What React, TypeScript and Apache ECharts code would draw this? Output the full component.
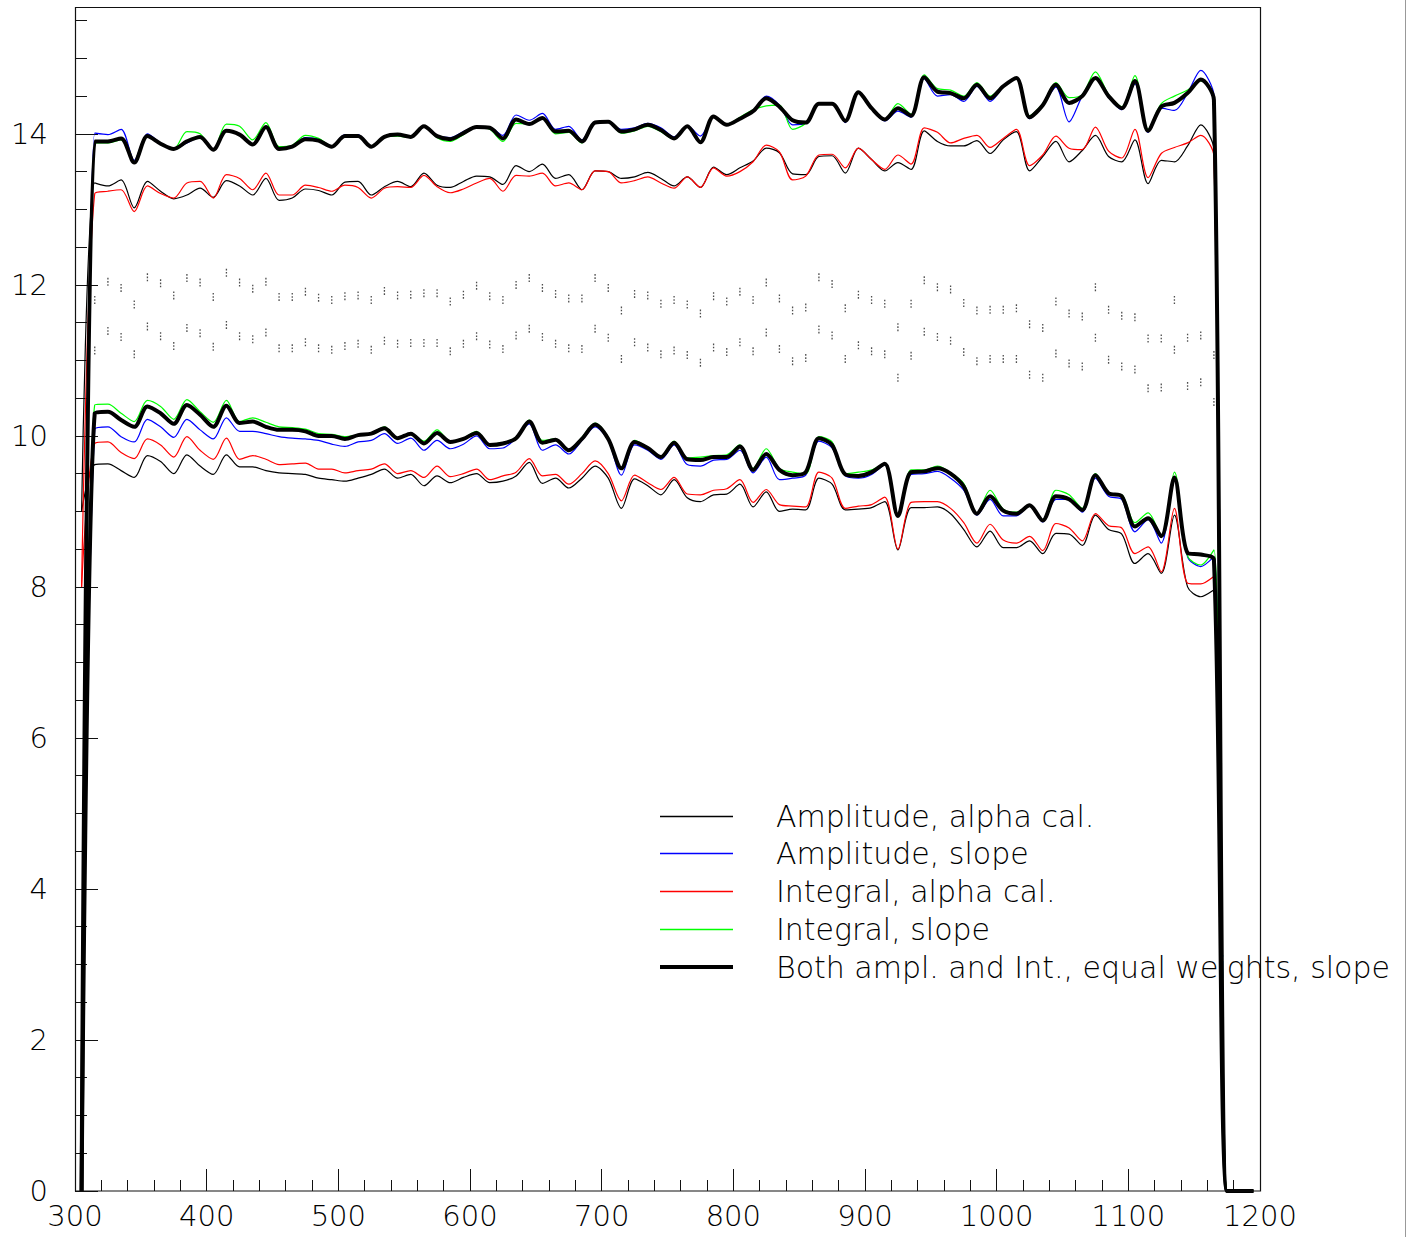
import React, { useEffect, useRef } from "react";
import * as echarts from "echarts";

const X = [
  305, 315, 325, 335, 345, 355, 365, 375, 385, 395,
  405, 415, 425, 435, 445, 455, 465, 475, 485, 495,
  505, 515, 525, 535, 545, 555, 565, 575, 585, 595,
  605, 615, 625, 635, 645, 655, 665, 675, 685, 695,
  705, 715, 725, 735, 745, 755, 765, 775, 785, 795,
  805, 815, 825, 835, 845, 855, 865, 875, 885, 895,
  905, 915, 925, 935, 945, 955, 965, 975, 985, 995,
  1005, 1015, 1025, 1035, 1045, 1055, 1065, 1075, 1085, 1095,
  1105, 1115, 1125, 1135, 1145, 1155, 1165, 1175, 1185, 1195,
];

// upper band
const ampAlphaHi = [
  9.0, 13.35, 13.31, 13.39, 13.02, 13.37, 13.24, 13.14, 13.19, 13.28,
  13.16, 13.38, 13.31, 13.19, 13.41, 13.12, 13.15, 13.27, 13.25, 13.19,
  13.36, 13.37, 13.19, 13.30, 13.37, 13.30, 13.48, 13.32, 13.29, 13.37,
  13.44, 13.43, 13.33, 13.58, 13.50, 13.60, 13.41, 13.46, 13.26, 13.51,
  13.50, 13.41, 13.43, 13.49, 13.41, 13.31, 13.43, 13.29, 13.56, 13.46,
  13.55, 13.64, 13.81, 13.75, 13.47, 13.46, 13.70, 13.71, 13.48, 13.81,
  13.66, 13.51, 13.62, 13.53, 14.04, 13.90, 13.84, 13.84, 13.91, 13.74,
  13.92, 14.03, 13.51, 13.70, 13.90, 13.63, 13.78, 13.98, 13.70, 13.63,
  13.92, 13.34, 13.65, 13.63, 13.84, 14.12, 13.79, 0, 0, 0,
];
const ampSlopeHi = [
  0, 14.01, 13.99, 14.06, 13.65, 14.00, 13.88, 13.80, 13.88, 13.96,
  13.78, 14.04, 13.99, 13.86, 14.10, 13.81, 13.84, 13.95, 13.93, 13.84,
  13.99, 13.99, 13.83, 13.96, 14.00, 13.97, 14.11, 13.98, 13.95, 14.03,
  14.10, 14.09, 13.98, 14.25, 14.18, 14.27, 14.06, 14.10, 13.92, 14.16,
  14.15, 14.06, 14.08, 14.14, 14.08, 13.96, 14.11, 13.97, 14.22, 14.12,
  14.20, 14.30, 14.50, 14.38, 14.12, 14.14, 14.40, 14.41, 14.15, 14.55,
  14.33, 14.17, 14.30, 14.22, 14.73, 14.50, 14.52, 14.43, 14.63, 14.43,
  14.62, 14.74, 14.20, 14.38, 14.62, 14.16, 14.50, 14.74, 14.48, 14.32,
  14.66, 14.02, 14.34, 14.31, 14.54, 14.84, 14.50, 0, 0, 0,
];
const intAlphaHi = [
  8.0, 13.21, 13.24, 13.26, 12.97, 13.31, 13.21, 13.15, 13.35, 13.37,
  13.15, 13.46, 13.41, 13.26, 13.48, 13.19, 13.19, 13.32, 13.29, 13.24,
  13.32, 13.29, 13.15, 13.28, 13.30, 13.29, 13.45, 13.30, 13.22, 13.27,
  13.35, 13.41, 13.24, 13.45, 13.44, 13.48, 13.31, 13.35, 13.26, 13.51,
  13.50, 13.35, 13.38, 13.43, 13.35, 13.28, 13.43, 13.29, 13.55, 13.44,
  13.50, 13.63, 13.85, 13.76, 13.39, 13.44, 13.72, 13.73, 13.55, 13.81,
  13.66, 13.53, 13.72, 13.60, 14.08, 14.02, 13.88, 13.94, 13.98, 13.82,
  13.94, 14.06, 13.58, 13.72, 13.97, 13.81, 13.79, 14.09, 13.77, 13.68,
  14.06, 13.42, 13.74, 13.82, 13.88, 13.98, 13.70, 0, 0, 0,
];
const intSlopeHi = [
  0, 13.88, 13.88, 13.92, 13.62, 13.97, 13.86, 13.80, 14.03, 14.00,
  13.79, 14.13, 14.10, 13.92, 14.15, 13.83, 13.85, 13.98, 13.94, 13.84,
  13.98, 13.97, 13.84, 13.96, 13.97, 13.95, 14.10, 13.95, 13.90, 13.99,
  14.09, 14.06, 13.90, 14.14, 14.13, 14.20, 14.00, 14.02, 13.88, 14.15,
  14.16, 14.01, 14.04, 14.10, 14.03, 13.93, 14.10, 13.90, 14.23, 14.13,
  14.22, 14.32, 14.37, 14.38, 14.06, 14.14, 14.40, 14.40, 14.17, 14.56,
  14.35, 14.19, 14.40, 14.26, 14.78, 14.60, 14.58, 14.50, 14.68, 14.50,
  14.64, 14.74, 14.24, 14.40, 14.68, 14.48, 14.52, 14.82, 14.52, 14.36,
  14.77, 14.06, 14.40, 14.50, 14.58, 14.70, 14.42, 0, 0, 0,
];
const bothHi = [
  0, 13.90, 13.90, 13.94, 13.62, 13.97, 13.87, 13.80, 13.90, 13.96,
  13.79, 14.04, 13.99, 13.86, 14.09, 13.80, 13.83, 13.93, 13.91, 13.83,
  13.97, 13.97, 13.83, 13.96, 13.99, 13.96, 14.10, 13.97, 13.93, 14.01,
  14.09, 14.08, 13.94, 14.19, 14.13, 14.21, 14.03, 14.04, 13.90, 14.15,
  14.16, 14.03, 14.06, 14.12, 14.05, 13.94, 14.10, 13.89, 14.23, 14.12,
  14.20, 14.30, 14.47, 14.36, 14.18, 14.15, 14.40, 14.40, 14.17, 14.55,
  14.34, 14.19, 14.34, 14.24, 14.75, 14.56, 14.54, 14.47, 14.65, 14.47,
  14.63, 14.74, 14.22, 14.38, 14.65, 14.41, 14.50, 14.74, 14.50, 14.34,
  14.70, 14.04, 14.36, 14.41, 14.54, 14.72, 14.45, 0, 0, 0,
];

// lower band
const ampAlphaLo = [
  9.0, 9.62, 9.63, 9.54, 9.45, 9.74, 9.66, 9.50, 9.75, 9.60,
  9.49, 9.75, 9.59, 9.59, 9.54, 9.51, 9.50, 9.49, 9.44, 9.42,
  9.40, 9.44, 9.49, 9.56, 9.44, 9.49, 9.34, 9.47, 9.38, 9.45,
  9.50, 9.38, 9.40, 9.47, 9.65, 9.37, 9.44, 9.31, 9.44, 9.60,
  9.44, 9.04, 9.43, 9.34, 9.22, 9.42, 9.18, 9.13, 9.22, 9.23,
  9.36, 9.06, 9.26, 9.00, 9.03, 9.02, 9.44, 9.36, 9.02, 9.03,
  9.05, 9.13, 8.49, 9.05, 9.05, 9.06, 8.97, 8.76, 8.53, 8.74,
  8.52, 8.52, 8.61, 8.44, 8.71, 8.70, 8.55, 8.95, 8.76, 8.70,
  8.31, 8.44, 8.18, 8.95, 8.00, 7.87, 7.96, 0, 0, 0,
];
const ampSlopeLo = [
  0, 10.09, 10.12, 9.99, 9.92, 10.22, 10.12, 9.98, 10.22, 10.08,
  9.96, 10.24, 10.06, 10.06, 10.03, 9.99, 9.97, 9.96, 9.94, 9.89,
  9.86, 9.92, 9.94, 10.03, 9.90, 9.97, 9.81, 9.94, 9.83, 9.89,
  10.00, 9.83, 9.84, 9.97, 10.16, 9.81, 9.88, 9.76, 9.94, 10.12,
  9.94, 9.48, 9.88, 9.81, 9.69, 9.88, 9.62, 9.60, 9.68, 9.69,
  9.81, 9.51, 9.72, 9.42, 9.44, 9.48, 9.93, 9.84, 9.47, 9.44,
  9.49, 9.62, 8.94, 9.49, 9.50, 9.53, 9.44, 9.28, 8.95, 9.16,
  8.94, 8.94, 9.08, 8.86, 9.16, 9.16, 8.99, 9.44, 9.20, 9.16,
  8.73, 8.89, 8.58, 9.43, 8.40, 8.27, 8.40, 0, 0, 0,
];
const intAlphaLo = [
  8.0, 9.90, 9.92, 9.78, 9.70, 9.96, 9.88, 9.72, 9.99, 9.81,
  9.69, 9.97, 9.69, 9.74, 9.69, 9.62, 9.63, 9.64, 9.56, 9.56,
  9.51, 9.54, 9.56, 9.63, 9.50, 9.54, 9.45, 9.60, 9.46, 9.50,
  9.56, 9.42, 9.47, 9.52, 9.70, 9.47, 9.49, 9.36, 9.50, 9.67,
  9.50, 9.14, 9.48, 9.38, 9.29, 9.45, 9.23, 9.22, 9.28, 9.30,
  9.42, 9.12, 9.29, 9.09, 9.07, 9.06, 9.52, 9.44, 9.04, 9.07,
  9.09, 9.19, 8.50, 9.12, 9.13, 9.13, 9.04, 8.85, 8.58, 8.83,
  8.62, 8.58, 8.67, 8.48, 8.84, 8.78, 8.61, 8.97, 8.81, 8.78,
  8.44, 8.53, 8.20, 9.04, 8.05, 8.04, 8.14, 0, 0, 0,
];
const intSlopeLo = [
  0, 10.41, 10.42, 10.30, 10.19, 10.47, 10.39, 10.22, 10.48, 10.32,
  10.18, 10.47, 10.19, 10.24, 10.18, 10.12, 10.11, 10.09, 10.03, 10.02,
  9.99, 10.01, 10.03, 10.12, 9.97, 10.03, 9.93, 10.08, 9.93, 9.97,
  10.06, 9.89, 9.91, 9.98, 10.21, 9.94, 9.96, 9.82, 9.98, 10.17,
  9.98, 9.58, 9.94, 9.85, 9.73, 9.93, 9.71, 9.72, 9.74, 9.75,
  9.88, 9.57, 9.83, 9.57, 9.52, 9.50, 9.99, 9.92, 9.50, 9.52,
  9.55, 9.64, 8.93, 9.55, 9.55, 9.60, 9.51, 9.37, 8.98, 9.28,
  9.03, 8.99, 9.08, 8.89, 9.28, 9.22, 9.04, 9.50, 9.24, 9.22,
  8.85, 8.98, 8.67, 9.52, 8.41, 8.29, 8.49, 0, 0, 0,
];
const bothLo = [
  0, 10.30, 10.32, 10.21, 10.12, 10.39, 10.30, 10.16, 10.41, 10.28,
  10.12, 10.40, 10.17, 10.19, 10.12, 10.08, 10.08, 10.06, 10.00, 10.00,
  9.96, 10.01, 10.03, 10.10, 9.97, 10.03, 9.90, 10.04, 9.92, 9.96,
  10.04, 9.88, 9.90, 9.97, 10.19, 9.91, 9.95, 9.81, 9.96, 10.15,
  9.96, 9.57, 9.92, 9.84, 9.72, 9.91, 9.69, 9.68, 9.72, 9.72,
  9.86, 9.55, 9.76, 9.55, 9.48, 9.52, 9.97, 9.88, 9.49, 9.47,
  9.52, 9.63, 8.94, 9.52, 9.53, 9.57, 9.50, 9.33, 8.97, 9.20,
  9.01, 8.97, 9.08, 8.88, 9.20, 9.16, 9.02, 9.48, 9.24, 9.20,
  8.80, 8.91, 8.67, 9.45, 8.45, 8.43, 8.36, 0, 0, 0,
];

// dotted markers (x = 315 ... 1165)
const markX = [
  315, 325, 335, 345, 355, 365, 375, 385, 395, 405,
  415, 425, 435, 445, 455, 465, 475, 485, 495, 505,
  515, 525, 535, 545, 555, 565, 575, 585, 595, 605,
  615, 625, 635, 645, 655, 665, 675, 685, 695, 705,
  715, 725, 735, 745, 755, 765, 775, 785, 795, 805,
  815, 825, 835, 845, 855, 865, 875, 885, 895, 905,
  915, 925, 935, 945, 955, 965, 975, 985, 995, 1005,
  1015, 1025, 1035, 1045, 1055, 1065, 1075, 1085, 1095, 1105,
  1115, 1125, 1135, 1145, 1155, 1165,
];
const markHi = [
  11.80, 12.04, 11.96, 11.74, 12.10, 12.02, 11.86, 12.09, 12.03, 11.84,
  12.16, 12.03, 11.95, 12.04, 11.84, 11.84, 11.91, 11.83, 11.80, 11.85,
  11.86, 11.80, 11.92, 11.86, 11.87, 11.89, 11.89, 11.78, 11.87, 11.99,
  11.85, 11.80, 12.00, 12.09, 11.96, 11.88, 11.82, 11.82, 12.09, 11.96,
  11.66, 11.88, 11.86, 11.75, 11.80, 11.74, 11.62, 11.85, 11.78, 11.91,
  11.80, 12.03, 11.82, 11.66, 11.70, 12.10, 12.01, 11.69, 11.87, 11.80,
  11.75, 11.44, 11.75, 12.06, 11.97, 11.94, 11.76, 11.66, 11.67, 11.67,
  11.69, 11.48, 11.43, 11.78, 11.62, 11.58, 11.97, 11.67, 11.59, 11.57,
  11.29, 11.29, 11.80, 11.30, 11.33, 11.07,
];
const markLo = [
  11.13, 11.39, 11.31, 11.08, 11.45, 11.32, 11.19, 11.43, 11.36, 11.18,
  11.47, 11.32, 11.28, 11.37, 11.16, 11.16, 11.24, 11.16, 11.14, 11.19,
  11.22, 11.14, 11.26, 11.22, 11.23, 11.23, 11.23, 11.12, 11.22, 11.32,
  11.21, 11.15, 11.33, 11.42, 11.31, 11.22, 11.16, 11.15, 11.42, 11.30,
  11.02, 11.24, 11.17, 11.08, 11.13, 11.07, 10.97, 11.17, 11.11, 11.24,
  11.12, 11.37, 11.15, 10.99, 11.03, 11.41, 11.33, 11.02, 11.20, 11.12,
  11.08, 10.77, 11.06, 11.38, 11.31, 11.26, 11.11, 10.99, 11.02, 11.02,
  11.02, 10.81, 10.77, 11.09, 10.96, 10.92, 11.30, 11.01, 10.92, 10.88,
  10.63, 10.64, 11.14, 10.66, 10.71, 10.45,
];

const NAMES = [
  "Amplitude, alpha cal.",
  "Amplitude, slope",
  "Integral, alpha cal.",
  "Integral, slope",
  "Both ampl. and Int., equal weights, slope",
];
const COLORS = ["#000000", "#0000ff", "#ff0000", "#00ff00", "#000000"];
const WIDTHS = [1.2, 1.2, 1.2, 1.2, 4];

const FONT = "DejaVu Sans";
const FONT_WEIGHT = 200;

export default function App() {
  const ref = useRef<HTMLDivElement>(null);
  useEffect(() => {
    const chart = echarts.init(ref.current!, null, { renderer: "svg" });
    const pairs = (ys: number[]) => X.map((x, i) => [x, ys[i]]);
    const lineSeries = (k: number, ys: number[]) => ({
      type: "line",
      name: NAMES[k],
      data: pairs(ys),
      symbol: "none",
      smooth: 0.3,
      lineStyle: { color: COLORS[k], width: WIDTHS[k] },
      itemStyle: { color: COLORS[k] },
      z: 2 + k,
      silent: true,
    });
    const hi = [ampAlphaHi, ampSlopeHi, intAlphaHi, intSlopeHi, bothHi];
    const lo = [ampAlphaLo, ampSlopeLo, intAlphaLo, intSlopeLo, bothLo];
    const series: any[] = [];
    for (let k = 0; k < 5; k++) {
      series.push(lineSeries(k, lo[k]));
      series.push(lineSeries(k, hi[k]));
    }
    const dotSym = "path://M0 0H1V2H0Z M0 4H1V6H0Z M0 8H1V10H0Z";
    [markHi, markLo].forEach((ys, j) => {
      series.push({
        type: "scatter",
        name: j === 0 ? "markHi" : "markLo",
        data: markX.map((x, i) => [x, ys[i]]),
        symbol: dotSym,
        symbolSize: [1.3, 8],
        itemStyle: { color: "#222" },
        silent: true,
        z: 1,
      });
    });

    // legend drawn as graphic entries
    const legendY = [816.5, 853.5, 891.5, 929.5, 967];
    const legendGraphics: any[] = [];
    NAMES.forEach((n, k) => {
      legendGraphics.push({
        type: "line",
        shape: { x1: 660, y1: legendY[k], x2: 733, y2: legendY[k] },
        style: { stroke: COLORS[k], lineWidth: k === 4 ? 4 : 1.4 },
        silent: true,
        z: 110,
      });
      legendGraphics.push({
        type: "text",
        x: 776,
        y: legendY[k],
        style: {
          text: n,
          fill: "#000",
          fontFamily: FONT,
          fontWeight: FONT_WEIGHT,
          fontSize: 30,
          verticalAlign: "middle",
          align: "left",
        },
        silent: true,
        z: 110,
      });
    });

    const labelStyle = {
      fontFamily: FONT,
      fontWeight: FONT_WEIGHT,
      fontSize: 29,
      color: "#000",
    };

    chart.setOption({
      animation: false,
      backgroundColor: "#ffffff",
      grid: { left: 75, right: 150, top: 7, bottom: 46, containLabel: false },
      xAxis: {
        type: "value",
        min: 300,
        max: 1200,
        interval: 100,
        axisLine: { show: false },
        axisTick: { show: true, inside: true, length: 22, lineStyle: { color: "#111", width: 1 } },
        minorTick: { show: true, splitNumber: 5, length: 11, lineStyle: { color: "#111", width: 1 } },
        splitLine: { show: false },
        minorSplitLine: { show: false },
        axisLabel: { ...labelStyle, margin: 10, formatter: (v: number) => String(v) },
      },
      yAxis: [
        {
          type: "value",
          min: 0,
          max: 15.68,
          interval: 2,
          position: "left",
          axisLine: { show: false },
          axisTick: { show: true, inside: true, length: 23, lineStyle: { color: "#111", width: 1 } },
          minorTick: { show: false },
          splitLine: { show: false },
          axisLabel: {
            ...labelStyle,
            margin: 27,
            showMaxLabel: false,
            formatter: (v: number) => (v % 2 === 0 ? String(v) : ""),
          },
        },
        {
          type: "value",
          min: 0,
          max: 15.68,
          interval: 0.5,
          position: "left",
          offset: 0,
          axisLine: { show: false },
          axisTick: { show: true, inside: true, length: 12, lineStyle: { color: "#111", width: 1 } },
          splitLine: { show: false },
          axisLabel: { show: false },
        },
      ],
      graphic: [
        {
          type: "rect",
          shape: { x: 75.5, y: 7.5, width: 1185, height: 1183.5 },
          style: { fill: "none", stroke: "#111", lineWidth: 1.2 },
          z: 100,
          silent: true,
        },
        {
          type: "line",
          shape: { x1: 1405.5, y1: 0, x2: 1405.5, y2: 1237 },
          style: { stroke: "#999", lineWidth: 1 },
          silent: true,
          z: 100,
        },
        ...legendGraphics,
      ],
      series,
    });
    return () => chart.dispose();
  }, []);
  return (
    <div
      ref={ref}
      style={{ position: "fixed", left: 0, top: 0, width: 1410, height: 1237, background: "#fff" }}
    />
  );
}
